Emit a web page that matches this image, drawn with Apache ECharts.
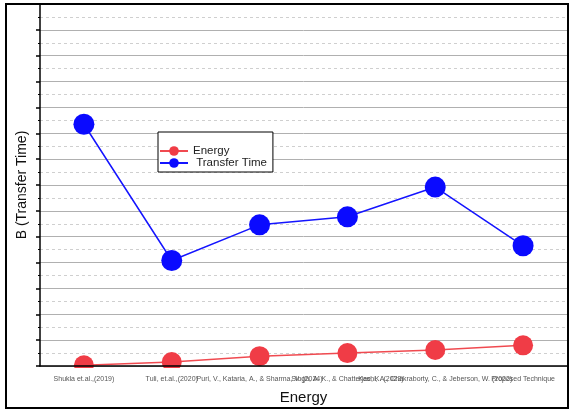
<!DOCTYPE html>
<html>
<head>
<meta charset="utf-8">
<script src="https://cdn.jsdelivr.net/npm/echarts@6/dist/echarts.min.js"></script>
<style>
  html, body { margin: 0; padding: 0; background: #fff; }
  #chart { width: 570px; height: 410px; }
</style>
</head>
<body>
<div id="chart"></div>
<script>
// categories along the x axis
const studies = [
  'Shukla et.al.,(2019)',
  'Tuli, et.al.,(2020)',
  'Puri, V., Kataria, A., & Sharma, V. (2024)',
  'Singh, A. K., & Chatterjee, K. (2023)',
  'Kashi, A., Chakraborty, C., & Jeberson, W. (2022)',
  'Proposed Technique'
];
// values (no labels on the y axis)
const energy = [0.03, 0.15, 0.38, 0.5, 0.62, 0.8];
const transferTime = [9.35, 4.08, 5.46, 5.77, 6.92, 4.65];

const chart = echarts.init(document.getElementById('chart'));

const font = 'Liberation Sans, Arial, sans-serif';

const option = {
  animation: false,
  textStyle: { fontFamily: font },
  grid: { left: 40, right: 3, top: 4, bottom: 43 },
  legend: {
    orient: 'vertical',
    left: 158,
    top: 132,
    padding: [13, 6, 3, 1],
    itemGap: 0,
    itemWidth: 28,
    itemHeight: 12,
    borderColor: '#000',
    borderWidth: 1,
    backgroundColor: '#fff',
    formatter: name => (name === 'Transfer Time' ? ' ' + name : name),
    textStyle: { fontSize: 11.5, color: '#222', fontFamily: font },
    data: ['Energy', 'Transfer Time']
  },
  xAxis: [
    {
      type: 'category',
      data: studies,
      zlevel: 1,
      z: 5,
      name: 'Energy',
      nameLocation: 'middle',
      nameGap: 24,
      nameTextStyle: { fontSize: 15, color: '#111', fontFamily: font },
      axisLine: { lineStyle: { color: '#000', width: 1.5 } },
      axisTick: { alignWithLabel: true, length: 7, lineStyle: { color: '#000', width: 1.5 } },
      axisLabel: { interval: 0, fontSize: 7, color: '#555', margin: 10, hideOverlap: false },
      splitLine: { show: false }
    },
    {
      // short ticks on the category boundaries
      type: 'category',
      data: studies,
      position: 'bottom',
      zlevel: 1,
      z: 5,
      axisLine: { show: false },
      axisTick: { length: 3, lineStyle: { color: '#000', width: 1.2 } },
      axisLabel: { show: false },
      splitLine: { show: false }
    }
  ],
  yAxis: {
    type: 'value',
    min: 0,
    max: 14,
    interval: 1,
    name: 'B (Transfer Time)',
    nameLocation: 'middle',
    nameGap: 11,
    nameTextStyle: { fontSize: 14, color: '#111', fontFamily: font },
    axisLine: { show: true, lineStyle: { color: '#000', width: 1.5 } },
    axisTick: { show: true, length: 4, lineStyle: { color: '#000', width: 1.5 } },
    minorTick: { show: true, splitNumber: 2, length: 2, lineStyle: { color: '#000' } },
    axisLabel: { show: false },
    splitLine: { show: true, lineStyle: { color: '#b0b0b0', width: 1 } },
    minorSplitLine: { show: true, lineStyle: { color: '#cfcfcf', type: [3, 3], width: 1 } }
  },
  series: [
    {
      name: 'Energy',
      type: 'line',
      data: energy,
      symbol: 'circle',
      symbolSize: 20,
      clip: false,
      itemStyle: { color: '#f03c46' },
      lineStyle: { color: '#f04a50', width: 1.5 }
    },
    {
      name: 'Transfer Time',
      type: 'line',
      data: transferTime,
      symbol: 'circle',
      symbolSize: 21,
      itemStyle: { color: '#0a0aff' },
      lineStyle: { color: '#1414ff', width: 1.5 }
    }
  ],
  graphic: [
    // mask so markers are cut at the bottom axis like the original
    {
      type: 'rect',
      zlevel: 1,
      z: 1,
      shape: { x: 41, y: 368, width: 526, height: 12 },
      style: { fill: '#fff' }
    },
    {
      type: 'rect',
      zlevel: 1,
      z: 10,
      shape: { x: 6, y: 4, width: 562, height: 404 },
      style: { fill: null, stroke: '#000', lineWidth: 2 }
    }
  ]
};

chart.setOption(option);
</script>
</body>
</html>
